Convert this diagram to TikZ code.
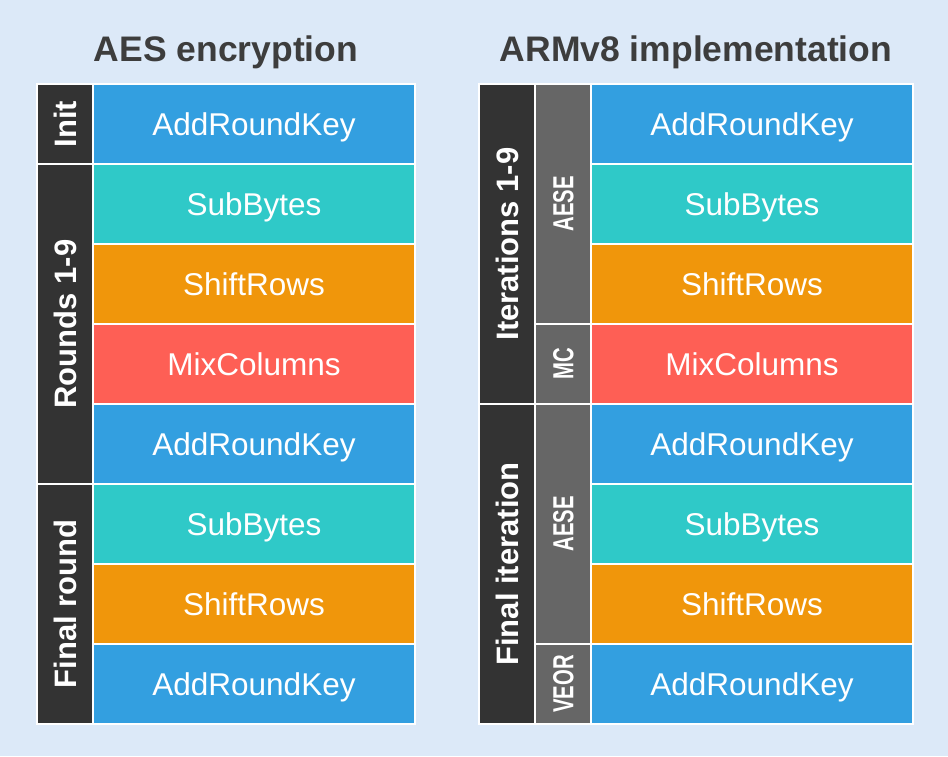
\documentclass[tikz,border=0pt]{standalone}
\usepackage{fontspec}
\setmainfont{Liberation Sans}
\usepackage{graphicx}
\definecolor{bgc}{HTML}{DCE9F8}
\definecolor{cblue}{HTML}{339FE0}
\definecolor{cteal}{HTML}{2FC9C8}
\definecolor{corange}{HTML}{F0960B}
\definecolor{cred}{HTML}{FE5F55}
\definecolor{cdark}{HTML}{333333}
\definecolor{cgray}{HTML}{666666}
\definecolor{ctitle}{HTML}{3D3D3D}
\begin{document}
\begin{tikzpicture}[x=1pt,y=-1pt,
  cell/.style={draw=white, line width=2pt, inner sep=0pt, outer sep=0pt, text=white, text depth=0pt},
  op/.style={cell, minimum width=322pt, minimum height=80pt, text height=22.5pt, font=\fontsize{31.5}{36}\selectfont},
  lab/.style={cell, fill=cdark, minimum height=56pt, rotate=90, text height=22.2pt, font=\fontsize{31}{36}\selectfont\bfseries},
  ins/.style={cell, fill=cgray, minimum height=56pt, rotate=90, text height=20.8pt, font=\fontsize{29}{34}\selectfont\bfseries},
  ttl/.style={text=ctitle, font=\fontsize{35.5}{40}\selectfont\bfseries, inner sep=0pt, text height=25.4pt, text depth=0pt}]
\useasboundingbox (0,0) rectangle (948,756);
\fill[bgc] (0,0) rectangle (948,756);
% titles
\node[ttl] (t1) at (226,49) {AES encryption};
\node[ttl] (t2) at (696,49) {ARMv8 implementation};
% left table
\node[lab, minimum width=80pt] (linit) at (65,124) {Init};
\node[lab, minimum width=320pt] (lround) at (65,324) {Rounds 1-9};
\node[lab, minimum width=240pt] (lfinal) at (65,604) {Final round};
\node[op, fill=cblue] (a1) at (254,124) {AddRoundKey};
\node[op, fill=cteal] (a2) at (254,204) {SubBytes};
\node[op, fill=corange] (a3) at (254,284) {ShiftRows};
\node[op, fill=cred] (a4) at (254,364) {MixColumns};
\node[op, fill=cblue] (a5) at (254,444) {AddRoundKey};
\node[op, fill=cteal] (a6) at (254,524) {SubBytes};
\node[op, fill=corange] (a7) at (254,604) {ShiftRows};
\node[op, fill=cblue] (a8) at (254,684) {AddRoundKey};
% right table
\node[lab, minimum width=320pt] (riter) at (507,244) {Iterations 1-9};
\node[lab, minimum width=320pt] (rfinal) at (507,564) {Final iteration};
\node[ins, minimum width=240pt] (aese1) at (563,204) {\scalebox{0.7}[1]{AESE}};
\node[ins, minimum width=80pt] (mc) at (563,364) {\scalebox{0.7}[1]{MC}};
\node[ins, minimum width=240pt] (aese2) at (563,524) {\scalebox{0.7}[1]{AESE}};
\node[ins, minimum width=80pt] (veor) at (563,684) {\scalebox{0.7}[1]{VEOR}};
\node[op, fill=cblue] (b1) at (752,124) {AddRoundKey};
\node[op, fill=cteal] (b2) at (752,204) {SubBytes};
\node[op, fill=corange] (b3) at (752,284) {ShiftRows};
\node[op, fill=cred] (b4) at (752,364) {MixColumns};
\node[op, fill=cblue] (b5) at (752,444) {AddRoundKey};
\node[op, fill=cteal] (b6) at (752,524) {SubBytes};
\node[op, fill=corange] (b7) at (752,604) {ShiftRows};
\node[op, fill=cblue] (b8) at (752,684) {AddRoundKey};
\end{tikzpicture}
\end{document}
